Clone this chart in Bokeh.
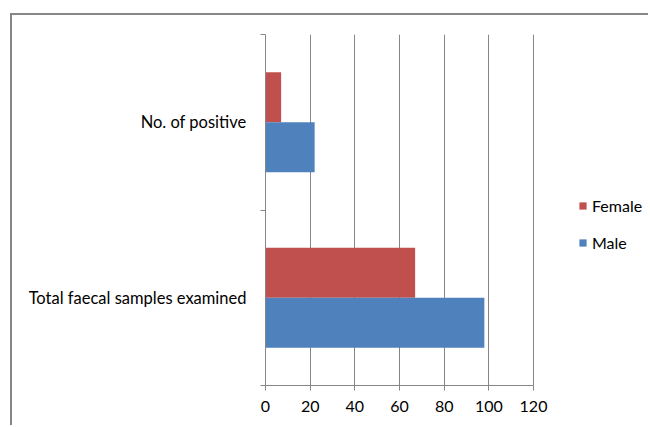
from bokeh.plotting import figure
from bokeh.models import (ColumnDataSource, FixedTicker, Legend, LegendItem, Range1d)
from bokeh.transform import dodge
from bokeh.embed import file_html
from bokeh.resources import INLINE

categories = ["Total faecal samples examined", "No. of positive"]
male = [98, 22]
female = [67, 7]
x_ticks = [0, 20, 40, 60, 80, 100, 120]

FONT = "Lato"
GREY = "#868686"

pos = [i + 0.5 for i in range(len(categories))]
src = ColumnDataSource(dict(y=pos, male=male, female=female))

# frame spans 265..650 px; 0..120 covers 265..533 px
x_end = 120 * (650 - 265) / (533 - 265)

p = figure(width=638, height=412, output_backend="svg", toolbar_location=None,
           x_range=Range1d(0, x_end), y_range=Range1d(0, len(categories)),
           min_border_left=253, min_border_right=0, min_border_top=19, min_border_bottom=42)
p.margin = (13, 0, 0, 10)
p.styles = {"border-left": "2px solid #868686", "border-top": "2px solid #868686"}
p.outline_line_color = None
p.background_fill_color = "white"
p.border_fill_color = "white"

bw = 0.285
rf = p.hbar(y=dodge("y", bw / 2, range=p.y_range), right="female", left=0, height=bw,
            source=src, fill_color="#C0504D", line_color=None)
rm = p.hbar(y=dodge("y", -bw / 2, range=p.y_range), right="male", left=0, height=bw,
            source=src, fill_color="#4F81BD", line_color=None)

# x axis
p.xaxis.ticker = FixedTicker(ticks=x_ticks)
p.xaxis.bounds = (x_ticks[0], x_ticks[-1])
p.xaxis.axis_line_color = GREY
p.xaxis.major_tick_line_color = GREY
p.xaxis.major_tick_out = 5
p.xaxis.major_tick_in = 0
p.xaxis.minor_tick_line_color = None
p.xaxis.major_label_text_font = FONT
p.xaxis.major_label_text_font_size = "16px"
p.xaxis.major_label_text_color = "black"
p.xaxis.major_label_standoff = 10

# y axis
p.yaxis.ticker = FixedTicker(ticks=pos, minor_ticks=[0, 1, 2])
p.yaxis.major_label_overrides = {pos[i]: categories[i] for i in range(len(categories))}
p.yaxis.axis_line_color = GREY
p.yaxis.major_tick_line_color = None
p.yaxis.major_tick_out = 0
p.yaxis.major_tick_in = 0
p.yaxis.minor_tick_line_color = GREY
p.yaxis.minor_tick_out = 5
p.yaxis.minor_tick_in = 0
p.yaxis.major_label_text_font = FONT
p.yaxis.major_label_text_font_size = "16.5px"
p.yaxis.major_label_text_color = "black"
p.yaxis.major_label_standoff = 14

p.xgrid.ticker = FixedTicker(ticks=x_ticks)
p.xgrid.grid_line_color = GREY
p.ygrid.grid_line_color = None

legend = Legend(items=[LegendItem(label="Female", renderers=[rf]),
                       LegendItem(label="Male", renderers=[rm])],
                location=(313, 133), orientation="vertical")
legend.glyph_width = 9
legend.glyph_height = 9
legend.label_height = 20
legend.spacing = 17
legend.label_standoff = 5
legend.padding = 0
legend.margin = 0
legend.border_line_color = None
legend.background_fill_alpha = 0
legend.label_text_font = FONT
legend.label_text_font_size = "16px"
legend.label_text_color = "black"
p.add_layout(legend, "center")

open("out.html", "w").write(file_html(p, INLINE))
